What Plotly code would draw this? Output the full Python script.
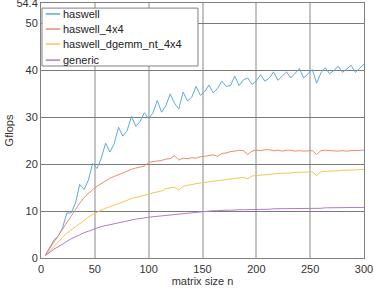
import plotly.graph_objects as go

n_values = list(range(4, 301, 4))

haswell = [0.6, 2.3, 3.8, 4.7, 6.4, 9.6, 9.6, 11.7, 15.7, 14.6, 16.6, 20.2, 19.1, 21.3, 24.5,
           22.6, 24.4, 27.9, 26.0, 27.2, 30.2, 28.1, 29.1, 31.0, 29.7, 31.0, 33.6, 31.1, 32.5,
           35.0, 33.0, 31.8, 35.4, 33.5, 34.3, 36.6, 34.7, 35.5, 36.9, 35.2, 36.2, 37.7, 36.6,
           36.8, 38.8, 36.8, 38.0, 38.4, 37.0, 37.8, 39.1, 37.7, 38.4, 39.7, 37.9, 38.8, 39.7,
           38.4, 39.3, 40.4, 38.4, 39.3, 40.2, 37.3, 39.5, 40.6, 39.3, 40.0, 40.9, 39.6, 40.3,
           41.1, 39.6, 40.5, 41.4]

haswell_4x4 = [0.6, 2.0, 3.5, 4.9, 6.3, 7.7, 9.1, 10.4, 11.7, 12.9, 13.8, 14.6, 15.3, 15.9, 16.5,
               17.0, 17.4, 17.8, 18.2, 18.6, 18.9, 19.2, 19.4, 19.6, 20.4, 20.6, 20.7, 20.8, 21.1,
               21.2, 21.8, 20.9, 21.3, 21.2, 21.4, 21.3, 21.6, 21.7, 21.9, 22.0, 21.7, 22.3, 22.4,
               22.7, 22.8, 23.0, 22.9, 22.1, 22.8, 23.0, 22.9, 23.1, 23.1, 22.9, 23.0, 22.8, 23.0,
               23.0, 22.8, 22.9, 22.8, 22.8, 22.9, 22.1, 22.9, 23.0, 22.9, 22.8, 22.8, 22.9, 22.8,
               22.9, 22.9, 23.0, 23.0]

haswell_dgemm_nt_4x4 = [0.5, 1.5, 2.6, 3.5, 4.4, 5.3, 6.0, 6.8, 7.5, 8.1, 8.7, 9.3, 9.8, 10.2, 10.6,
                        11.0, 11.3, 11.6, 11.9, 12.3, 12.7, 12.9, 13.2, 13.4, 13.6, 13.9, 14.1, 14.3,
                        14.8, 14.9, 15.1, 14.5, 15.3, 15.5, 15.7, 15.9, 16.0, 16.1, 16.3, 16.4, 16.5,
                        16.6, 16.8, 16.9, 17.0, 17.1, 17.2, 16.9, 17.5, 17.6, 17.7, 17.8, 17.9, 18.0,
                        18.0, 18.1, 18.1, 18.2, 18.2, 18.3, 18.3, 18.3, 18.4, 17.6, 18.4, 18.5, 18.5,
                        18.6, 18.6, 18.7, 18.7, 18.8, 18.8, 18.9, 18.9]

generic = [0.5, 1.2, 1.9, 2.4, 3.0, 3.6, 4.1, 4.5, 5.0, 5.4, 5.7, 6.1, 6.4, 6.7, 6.9,
           7.2, 7.4, 7.6, 7.8, 8.0, 8.1, 8.3, 8.4, 8.6, 8.7, 8.8, 8.9, 9.0, 9.1,
           9.2, 9.3, 9.4, 9.5, 9.6, 9.7, 9.8, 9.9, 10.0, 10.0, 10.1, 10.1, 10.2, 10.2,
           10.2, 10.3, 10.3, 10.3, 10.3, 10.4, 10.4, 10.4, 10.4, 10.4, 10.5, 10.5, 10.5, 10.5,
           10.5, 10.5, 10.6, 10.6, 10.6, 10.6, 10.6, 10.6, 10.7, 10.7, 10.7, 10.7, 10.7, 10.7,
           10.8, 10.8, 10.8, 10.8]

series_names = ["haswell", "haswell_4x4", "haswell_dgemm_nt_4x4", "generic"]
series_colors = ["#5aaae3", "#ec8c6c", "#f5c654", "#b27cc8"]

x_ticks = [0, 50, 100, 150, 200, 250, 300]
y_ticks = [0, 10, 20, 30, 40, 50, 54.4]
y_tick_text = ["0", "10", "20", "30", "40", "50", "54.4"]

fig = go.Figure()
for name, ys, col in zip(series_names, [haswell, haswell_4x4, haswell_dgemm_nt_4x4, generic], series_colors):
    fig.add_trace(go.Scatter(x=n_values, y=ys, mode="lines", name=name,
                             line=dict(color=col, width=1), showlegend=False))

# manual legend (compact, like the reference)
shapes = [dict(type="rect", xref="paper", yref="paper", x0=0.003, x1=0.486, y0=0.753, y1=0.980,
               fillcolor="white", line=dict(color="#808080", width=1), layer="above")]
annotations = []
row_y = [0.957, 0.898, 0.839, 0.776]
for name, col, ry in zip(series_names, series_colors, row_y):
    shapes.append(dict(type="line", xref="paper", yref="paper", x0=0.015, x1=0.059, y0=ry, y1=ry,
                       line=dict(color=col, width=1.5), layer="above"))
    annotations.append(dict(xref="paper", yref="paper", x=0.063, y=ry, text=name, showarrow=False,
                            xanchor="left", yanchor="middle", font=dict(size=11, color="#222222")))

fig.update_layout(
    width=374, height=288,
    margin=dict(l=41, r=10, t=3, b=30, autoexpand=False),
    paper_bgcolor="white", plot_bgcolor="white",
    font=dict(family="Liberation Sans, Arial, sans-serif", size=11, color="#333333"),
    showlegend=False,
    shapes=shapes,
    annotations=annotations,
    xaxis=dict(range=[0, 300], tickvals=x_ticks, showgrid=True, gridcolor="#c4c4c4",
               gridwidth=2, zeroline=False, showline=True, linecolor="#808080",
               mirror=True, ticks="", automargin=False, ticklabelstandoff=1,
               title=dict(text="matrix size n", standoff=0, font=dict(size=11))),
    yaxis=dict(range=[0, 54.4], tickvals=y_ticks, ticktext=y_tick_text, showgrid=True,
               gridcolor="#7a7a7a", gridwidth=1, zeroline=False, showline=True,
               linecolor="#808080", mirror=True, ticks="", automargin=False,
               ticklabeloverflow="allow",
               title=dict(text="Gflops", standoff=0, font=dict(size=11))),
)

fig.write_html("out.html", config={"displayModeBar": False},
               post_script="document.body.style.margin='0';")
